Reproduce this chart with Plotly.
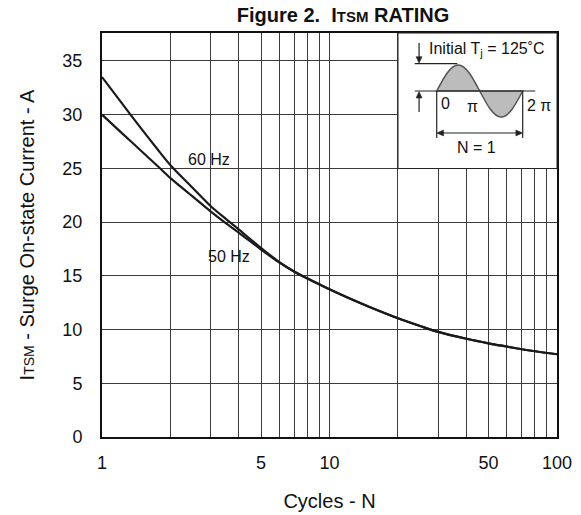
import math
import plotly.graph_objects as go

# ---- data ----
cycles = [1, 1.25, 1.5, 1.75, 2, 2.5, 3, 3.5, 4, 5, 6, 7, 8, 9, 10, 12, 15, 20, 25, 30, 40, 50, 60, 70, 80, 100]
itsm_60hz = [33.5, 30.8, 28.6, 26.8, 25.3, 23.2, 21.5, 20.3, 19.3, 17.6, 16.3, 15.4, 14.75, 14.22, 13.75,
             12.98, 12.1, 11.05, 10.33, 9.78, 9.14, 8.72, 8.42, 8.17, 7.98, 7.7]
itsm_50hz = [30.0, 28.1, 26.55, 25.25, 24.1, 22.4, 21.0, 19.9, 19.0, 17.45, 16.25, 15.38, 14.75, 14.22, 13.75,
             12.98, 12.1, 11.05, 10.33, 9.78, 9.14, 8.72, 8.42, 8.17, 7.98, 7.7]

x_tickvals = [1, 5, 10, 50, 100]
x_ticktext = ["1", "5", "10", "50", "100"]
x_minor_gridvals = [2, 3, 4, 6, 7, 8, 9, 20, 30, 40, 60, 70, 80, 90]
y_tickvals = [0, 5, 10, 15, 20, 25, 30, 35]

FONT = "Liberation Sans, Arial, Helvetica, sans-serif"
GRID = "#3c3c3c"
INK = "#1a1a1a"

fig = go.Figure()
for name, vals in (("60 Hz", itsm_60hz), ("50 Hz", itsm_50hz)):
    fig.add_trace(go.Scatter(x=cycles, y=vals, mode="lines", name=name,
                             line=dict(color=INK, width=2.2, shape="spline", smoothing=0.9),
                             showlegend=False, hoverinfo="skip"))

# invisible helper trace so the inset axes exist
fig.add_trace(go.Scatter(x=[0], y=[0], xaxis="x2", yaxis="y2", mode="markers",
                         marker=dict(opacity=0), showlegend=False, hoverinfo="skip"))

small = "<span style='font-size:14px'>TSM</span>"
fig.update_layout(
    width=581, height=515,
    margin=dict(l=102, r=24, t=33, b=78, autoexpand=False),
    paper_bgcolor="white", plot_bgcolor="white",
    font=dict(family=FONT, color="#111", size=18),
    title=dict(text="<b>Figure 2.\u00a0\u00a0I" + "<span style='font-size:15px'>TSM</span> RATING</b>",
               x=343 / 581, xanchor="center", xref="container", y=0.985, yanchor="top",
               font=dict(size=20, family=FONT, color="#111")),
    xaxis=dict(type="log", range=[0, 2], tickvals=x_tickvals, ticktext=x_ticktext,
               showgrid=True, gridcolor=GRID, gridwidth=1, automargin=False,
               minor=dict(tickvals=x_minor_gridvals, showgrid=True, gridcolor=GRID, gridwidth=1, ticks=""),
               showline=True, linecolor="#111", linewidth=2, mirror=True,
               ticks="", ticklabelstandoff=8, tickfont=dict(size=18),
               title=dict(text="Cycles - N", font=dict(size=20), standoff=22),
               zeroline=False),
    yaxis=dict(range=[0, 37.6], tickvals=y_tickvals, automargin=False,
               showgrid=True, gridcolor=GRID, gridwidth=1,
               showline=True, linecolor="#111", linewidth=2, mirror=True,
               ticks="", ticklabelstandoff=14, tickfont=dict(size=18),
               title=dict(text="I" + small + " - Surge On-state Current - A",
                          font=dict(size=20), standoff=22),
               zeroline=False),
    xaxis2=dict(domain=[(398 - 102) / 455, 1.0], range=[-2.83, 8.79], anchor="y2",
                visible=False, fixedrange=True),
    yaxis2=dict(domain=[(437 - 168.5) / 404, 1.0], range=[-2.98, 2.23], anchor="x2",
                visible=False, fixedrange=True),
    hovermode=False,
)

# inset white panel
fig.add_shape(type="rect", xref="paper", yref="paper",
              x0=(398 - 102) / 455, x1=1.0, y0=(437 - 168.5) / 404, y1=1.0,
              fillcolor="white", line=dict(color="#222", width=1), layer="above")

TWO_PI = 2 * math.pi
# sine waveform (schematic)
pos = "M 0,0 C 0.5128,0.5128 1.0023,1 1.5708,1 C 2.1393,1 2.6288,0.5128 3.1416,0 Z"
neg = "M 3.1416,0 C 3.6544,-0.5128 4.1439,-1 4.7124,-1 C 5.2809,-1 5.7704,-0.5128 6.2832,0 Z"
for p in (pos, neg):
    fig.add_shape(type="path", path=p, xref="x2", yref="y2",
                  fillcolor="#bcbcbc", line=dict(color="#555", width=1.5), layer="above")

def seg(x0, y0, x1, y1, w=1.2):
    fig.add_shape(type="line", xref="x2", yref="y2", x0=x0, y0=y0, x1=x1, y1=y1,
                  line=dict(color="#222", width=w), layer="above")

def head(path):
    fig.add_shape(type="path", path=path, xref="x2", yref="y2",
                  fillcolor="#222", line=dict(color="#222", width=0.5), layer="above")

seg(-1.6, 1.05, 1.5, 1.05)        # peak reference line
seg(-1.6, 0, 7.2, 0)              # baseline
seg(0, 0, 0, -1.81)               # left extension
seg(TWO_PI, 0, TWO_PI, -1.81)     # right extension

# down arrow onto peak line
seg(-1.29, 1.85, -1.29, 1.2)
head("M -1.29,1.07 L -1.51,1.32 L -1.07,1.32 Z")
# up arrow onto baseline
seg(-1.29, -0.81, -1.29, -0.15)
head("M -1.29,-0.02 L -1.51,-0.27 L -1.07,-0.27 Z")
# N = 1 span arrow
seg(0.3, -1.615, TWO_PI - 0.3, -1.615)
head("M 0,-1.615 L 0.5,-1.5 L 0.5,-1.73 Z")
head(f"M {TWO_PI},-1.615 L {TWO_PI - 0.5},-1.5 L {TWO_PI - 0.5},-1.73 Z")

def label(x, y, t, size=16, anchor="center"):
    fig.add_annotation(x=x, y=y, xref="x2", yref="y2", text=t, showarrow=False,
                       xanchor=anchor, yanchor="middle", font=dict(size=size, family=FONT, color="#111"))

label(3.64, 1.6, "Initial T<sub>j</sub> = 125˚C")
label(0.15, -0.48, "0", anchor="left")
label(2.65, -0.6, "π")
label(6.45, -0.55, "2 π", anchor="left")
label(2.92, -2.17, "N = 1")

# curve labels (log axis -> annotation x in log10)
fig.add_annotation(x=math.log10(2.95), y=25.8, xref="x", yref="y", text="60 Hz",
                   showarrow=False, font=dict(size=16, family=FONT, color="#111"))
fig.add_annotation(x=math.log10(3.6), y=16.8, xref="x", yref="y", text="50 Hz",
                   showarrow=False, font=dict(size=16, family=FONT, color="#111"))

fig.write_html("out.html", config={"displayModeBar": False, "staticPlot": True},
               post_script="document.body.style.margin='0px';")
